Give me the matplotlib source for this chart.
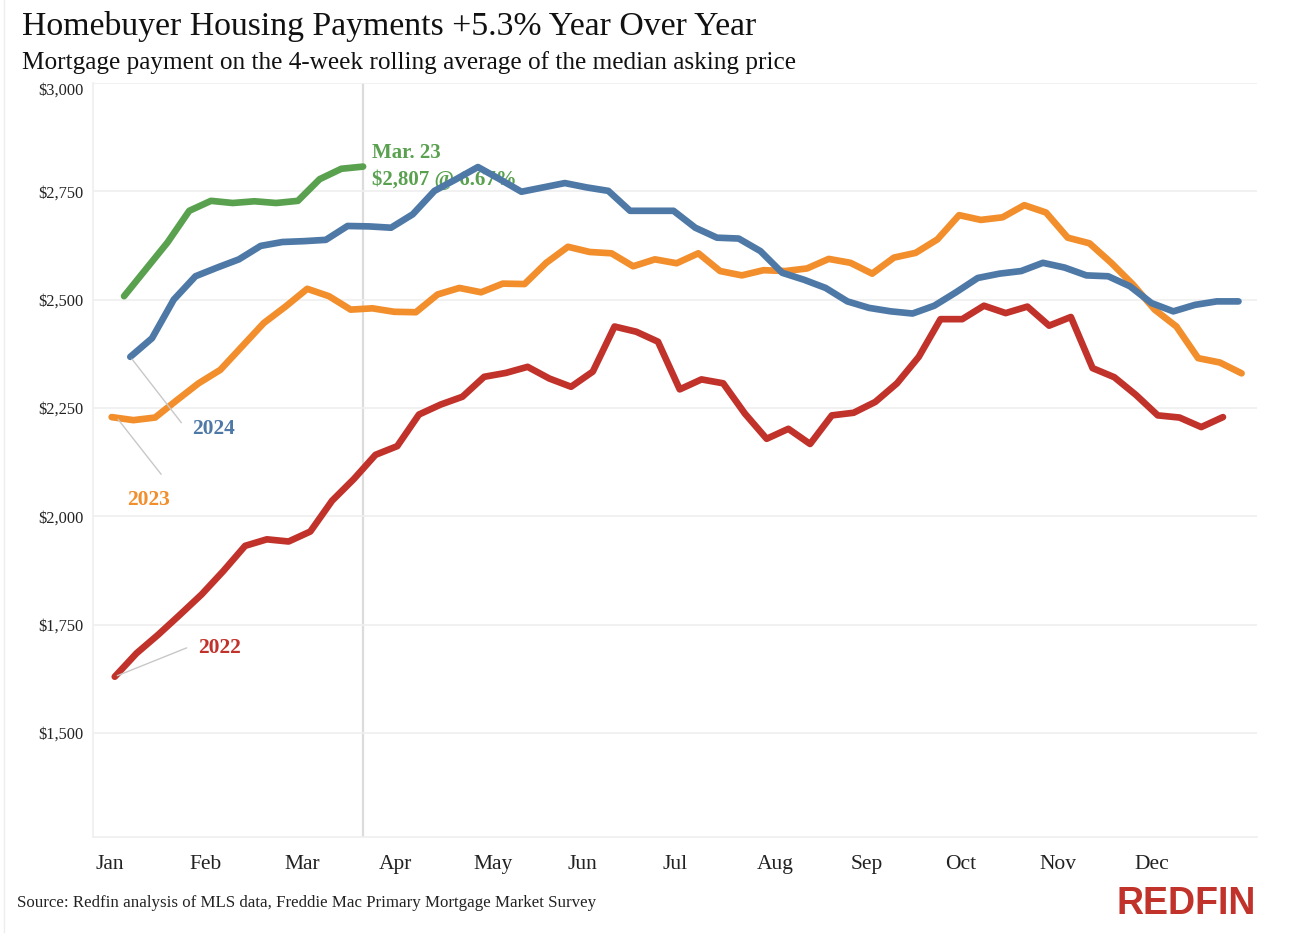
import numpy as np
import pandas as pd
import matplotlib.pyplot as plt
from matplotlib.lines import Line2D

plt.rcParams['font.family'] = ['Liberation Serif', 'DejaVu Serif']

# weekly mortgage payment ($), 4-week rolling avg of median asking price
pay_2022 = [1630, 1684, 1727, 1773, 1820, 1874, 1932, 1947, 1942, 1965, 2036, 2086,
            2142, 2162, 2235, 2258, 2276, 2322, 2331, 2345, 2318, 2299, 2334, 2438,
            2426, 2403, 2293, 2316, 2307, 2237, 2179, 2202, 2167, 2233, 2239, 2264,
            2307, 2368, 2455, 2455, 2486, 2469, 2484, 2440, 2460, 2342, 2321, 2280,
            2233, 2228, 2206, 2229]
pay_2023 = [2229, 2222, 2228, 2268, 2307, 2338, 2392, 2446, 2484, 2525, 2508, 2477,
            2480, 2472, 2471, 2512, 2527, 2517, 2537, 2536, 2585, 2622, 2610, 2607,
            2577, 2593, 2584, 2607, 2566, 2556, 2568, 2566, 2572, 2594, 2585, 2560,
            2597, 2608, 2639, 2695, 2684, 2690, 2718, 2701, 2643, 2630, 2585, 2535,
            2477, 2438, 2365, 2355, 2330]
pay_2024 = [2368, 2411, 2500, 2554, 2574, 2593, 2624, 2633, 2635, 2638, 2670, 2669,
            2666, 2697, 2751, 2778, 2806, 2778, 2749, 2759, 2769, 2759, 2751, 2705,
            2705, 2705, 2666, 2643, 2641, 2612, 2562, 2546, 2527, 2496, 2481, 2473,
            2468, 2486, 2517, 2550, 2560, 2566, 2585, 2574, 2556, 2554, 2531, 2492,
            2473, 2488, 2496, 2496]
pay_2025 = [2508, 2570, 2632, 2705, 2728, 2723, 2727, 2723, 2728, 2778, 2802, 2807]

start = {'2022': '2022-01-02', '2023': '2023-01-01', '2024': '2024-01-07', '2025': '2025-01-05'}
colors = {'2022': '#C1322B', '2023': '#F28E2B', '2024': '#4E79A7', '2025': '#59A14F'}
series = {'2022': pay_2022, '2023': pay_2023, '2024': pay_2024, '2025': pay_2025}

months = ['Jan', 'Feb', 'Mar', 'Apr', 'May', 'Jun', 'Jul', 'Aug', 'Sep', 'Oct', 'Nov', 'Dec']
yticks = [1500, 1750, 2000, 2250, 2500, 2750, 3000]

fig = plt.figure(figsize=(12.92, 9.48), dpi=100)
ax = fig.add_axes([0.072, 0.117, 0.901, 0.7955])

xs = {}
for yr in ['2022', '2023', '2024', '2025']:
    d = pd.date_range(start[yr], periods=len(series[yr]), freq='7D')
    xs[yr] = np.array(d.dayofyear)
    ax.plot(xs[yr], series[yr], color=colors[yr], lw=4.8, solid_capstyle='round',
            solid_joinstyle='round', zorder=3)

# Mar 23 marker line
ax.axvline(xs['2025'][-1], color='#dcdcdc', lw=1.6, zorder=1)

ax.set_xlim(-5, 370)
ax.set_ylim(1260, 3000)
ax.set_yticks(yticks)
ax.set_yticklabels(['${:,}'.format(v) for v in yticks])
ax.yaxis.get_ticklabels()[-1].set_va('top')
# month labels evenly spaced, left aligned
ax.set_xticks(-4.2 + np.arange(12) * 365 / 12)
ax.set_xticklabels(months, ha='left')
ax.tick_params(axis='y', length=0, pad=7, labelsize=11.8, labelcolor='#222222')
ax.tick_params(axis='x', length=0, pad=13, labelsize=15.5, labelcolor='#222222')
ax.grid(axis='y', color='#efefef', lw=1.2, zorder=0)
for s in ['top', 'right']:
    ax.spines[s].set_visible(False)
for s in ['left', 'bottom']:
    ax.spines[s].set_color('#efefef')
    ax.spines[s].set_linewidth(1.2)

# annotations
lead = dict(arrowstyle='-', color='#c8c8c8', lw=1)
ax.annotate('', xy=(xs['2024'][0], pay_2024[0]), xytext=(24, 2211), arrowprops=lead)
ax.annotate('', xy=(xs['2023'][0] + 1.5, pay_2023[0]), xytext=(17.5, 2092), arrowprops=lead)
ax.annotate('', xy=(xs['2022'][0], pay_2022[0]), xytext=(26, 1699), arrowprops=lead)
ax.text(27, 2202, '2024', color=colors['2024'], fontsize=15.5, fontweight='bold', va='center')
ax.text(6, 2038, '2023', color=colors['2023'], fontsize=15.5, fontweight='bold', va='center')
ax.text(29, 1696, '2022', color=colors['2022'], fontsize=15.5, fontweight='bold', va='center')
ax.text(85, 2839, 'Mar. 23', color=colors['2025'], fontsize=15, fontweight='bold', va='center')
ax.text(85, 2777, '$2,807 @ 6.67%', color=colors['2025'], fontsize=15, fontweight='bold',
        va='center', zorder=2)

fig.text(0.017, 0.972, 'Homebuyer Housing Payments +5.3% Year Over Year', fontsize=24.3,
         va='center', color='#111111')
fig.text(0.017, 0.934, 'Mortgage payment on the 4-week rolling average of the median asking price',
         fontsize=18.2, va='center', color='#111111')
fig.text(0.013, 0.047, 'Source: Redfin analysis of MLS data, Freddie Mac Primary Mortgage Market Survey',
         fontsize=12.2, va='center', color='#222222')
fig.text(0.972, 0.046, 'REDFIN', family=['Liberation Sans', 'DejaVu Sans'],
         fontsize=27, fontweight='bold', color='#C1322B', ha='right', va='center')

fig.add_artist(Line2D([0.003, 0.003], [0.017, 1.0], color='#eeeeee', lw=1))

fig.savefig('out.png', dpi=100, facecolor='white')
